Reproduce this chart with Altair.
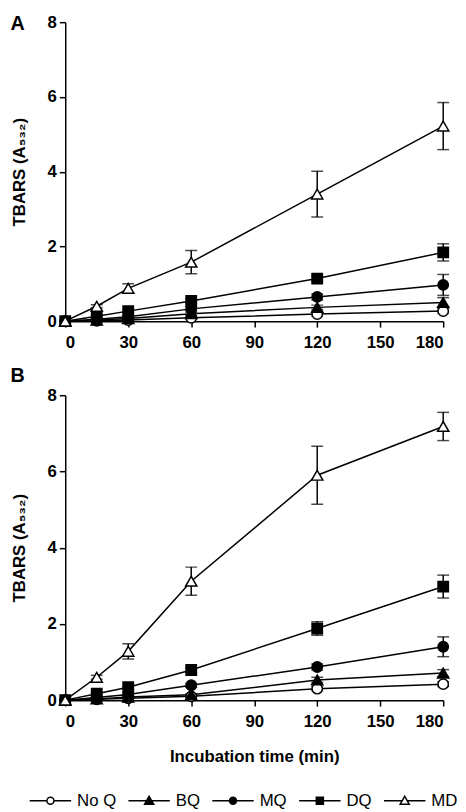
import altair as alt
import pandas as pd

TIME = [0, 15, 30, 60, 120, 180]
SERIES = ["No Q", "BQ", "MQ", "DQ", "MD"]
SHAPES = ["circle", "triangle-up", "circle", "square", "triangle-up"]
FILLS = ["white", "black", "black", "black", "white"]

# Panel A values (TBARS, A532)
A_NOQ = [0, 0.01, 0.03, 0.09, 0.19, 0.27]
A_BQ = [0, 0.03, 0.07, 0.2, 0.37, 0.5]
A_MQ = [0, 0.05, 0.12, 0.33, 0.65, 0.97]
A_DQ = [0, 0.13, 0.27, 0.54, 1.14, 1.84]
A_MD = [0, 0.4, 0.88, 1.58, 3.4, 5.22]
A_NOQ_ERR = [0, 0, 0.01, 0.02, 0.06, 0.06]
A_BQ_ERR = [0, 0, 0.02, 0.04, 0.06, 0.13]
A_MQ_ERR = [0, 0, 0.02, 0.05, 0.08, 0.28]
A_DQ_ERR = [0, 0.02, 0.04, 0.06, 0.07, 0.23]
A_MD_ERR = [0, 0.04, 0.12, 0.31, 0.61, 0.63]

# Panel B values
B_NOQ = [0, 0.02, 0.05, 0.1, 0.3, 0.42]
B_BQ = [0, 0.03, 0.08, 0.14, 0.53, 0.71]
B_MQ = [0, 0.07, 0.15, 0.39, 0.87, 1.4]
B_DQ = [0, 0.17, 0.34, 0.79, 1.88, 2.98]
B_MD = [0, 0.6, 1.28, 3.12, 5.9, 7.18]
B_NOQ_ERR = [0, 0, 0.01, 0.02, 0.05, 0.06]
B_BQ_ERR = [0, 0, 0.02, 0.03, 0.07, 0.09]
B_MQ_ERR = [0, 0.01, 0.03, 0.05, 0.08, 0.26]
B_DQ_ERR = [0, 0.03, 0.04, 0.06, 0.18, 0.3]
B_MD_ERR = [0, 0.05, 0.2, 0.37, 0.76, 0.37]

X_TICKS = [0, 30, 60, 90, 120, 150, 180]
Y_TICKS = [0, 2, 4, 6, 8]

FONT = "Liberation Sans"


def circ(r):
    return f"M{-r},0A{r},{r},0,1,1,{r},0A{r},{r},0,1,1,{-r},0Z"


def tri(k):
    cy = 0.04
    top = cy - 0.26 * k
    bot = cy + 0.13 * k
    w = 0.22 * k
    return f"M0,{top:.3f}L{w:.3f},{bot:.3f}L{-w:.3f},{bot:.3f}Z"


def sq(s):
    return f"M{-s},{-s}H{s}V{s}H{-s}Z"


# legend symbols: a line with the marker in its middle (unit square -1..1);
# solid markers are built from nested outlines
LEGEND_PATHS = [
    "M-1,0H-0.17M0.17,0H1" + circ(0.17),
    "M-1,0H1" + tri(1) + tri(0.7) + tri(0.4) + tri(0.15),
    "M-1,0H1" + circ(0.17) + circ(0.12) + circ(0.07) + circ(0.03),
    "M-1,0H1" + sq(0.17) + sq(0.12) + sq(0.07) + sq(0.03),
    "M-1,0H-0.12M0.12,0H1" + tri(1),
]


def make_df(vals, errs):
    rows = []
    for s, v, e in zip(SERIES, vals, errs):
        for t, y, err in zip(TIME, v, e):
            rows.append({"series": s, "time": t, "value": y, "lo": y - err, "hi": y + err})
    return pd.DataFrame(rows)


dfA = make_df([A_NOQ, A_BQ, A_MQ, A_DQ, A_MD],
              [A_NOQ_ERR, A_BQ_ERR, A_MQ_ERR, A_DQ_ERR, A_MD_ERR])
dfB = make_df([B_NOQ, B_BQ, B_MQ, B_DQ, B_MD],
              [B_NOQ_ERR, B_BQ_ERR, B_MQ_ERR, B_DQ_ERR, B_MD_ERR])


def panel(df, label, height, show_xtitle, title_offset, with_legend):
    x_axis = alt.Axis(values=X_TICKS, title="Incubation time (min)" if show_xtitle else None,
                      titlePadding=19)
    x = alt.X("time:Q", scale=alt.Scale(domain=[0, 180], nice=False), axis=x_axis)
    y = alt.Y("value:Q", scale=alt.Scale(domain=[0, 8], nice=False),
              axis=alt.Axis(values=Y_TICKS, title="TBARS (A₅₃₂)", titlePadding=19))
    base = alt.Chart(df)
    err_rule = base.mark_rule(color="black", strokeWidth=1.5).encode(
        x=x, y="lo:Q", y2="hi:Q")
    cap_lo = base.mark_tick(orient="horizontal", color="black", size=12, thickness=1.5).encode(
        x=x, y="lo:Q")
    cap_hi = base.mark_tick(orient="horizontal", color="black", size=12, thickness=1.5).encode(
        x=x, y="hi:Q")
    lines = base.mark_line(color="black", strokeWidth=1.5).encode(
        x=x, y=y, detail="series:N", order="time:Q")
    layers = [err_rule, cap_lo, cap_hi, lines]
    for s, shp, fill in zip(SERIES, SHAPES, FILLS):
        pts = base.transform_filter(alt.datum.series == s).mark_point(
            shape=shp, filled=True, fill=fill, stroke="black", strokeWidth=1.5,
            size=110 if shp != "triangle-up" else 130, opacity=1
        ).encode(x=x, y=y)
        layers.append(pts)
    if with_legend:
        leg = alt.Legend(
            title=None, orient="none", legendX=-37, legendY=767,
            direction="horizontal", symbolSize=1764,
            symbolStrokeWidth=1.5, symbolOpacity=1,
            labelFont=FONT, labelFontSize=17, labelColor="black",
            labelOffset=5, columnPadding=9, labelLimit=200,
        )
        legend_layer = base.transform_filter("false").mark_point(
            filled=False, strokeWidth=1.5, opacity=1).encode(
            color=alt.Color("series:N", scale=alt.Scale(domain=SERIES, range=["black"] * 5), legend=leg),
            shape=alt.Shape("series:N", scale=alt.Scale(domain=SERIES, range=LEGEND_PATHS), legend=leg),
        )
        layers.append(legend_layer)
    return alt.layer(*layers).properties(
        width=383, height=height,
        title=alt.TitleParams(label, anchor="start", frame="bounds", fontSize=20,
                              font=FONT, fontWeight="bold", offset=title_offset),
    )


chart = alt.vconcat(
    panel(dfA, "A", 303, False, -21, False),
    panel(dfB, "B", 309, True, 0, True),
    spacing=16,
).properties(padding={"left": 2, "top": 0, "right": 0, "bottom": 0}).configure_view(
    stroke=None
).configure_axis(
    domainColor="black", domainWidth=1.5, tickColor="black", tickWidth=1.5, tickSize=6,
    grid=False, labelFont=FONT, labelFontSize=17, labelFontWeight="bold", labelColor="black",
    labelPadding=3, titleFont=FONT, titleFontSize=17, titleFontWeight="bold", titleColor="black",
).configure_axisX(labelPadding=8).configure_title(color="black")

chart.save("out.html", embed_options={"renderer": "svg", "actions": False})
